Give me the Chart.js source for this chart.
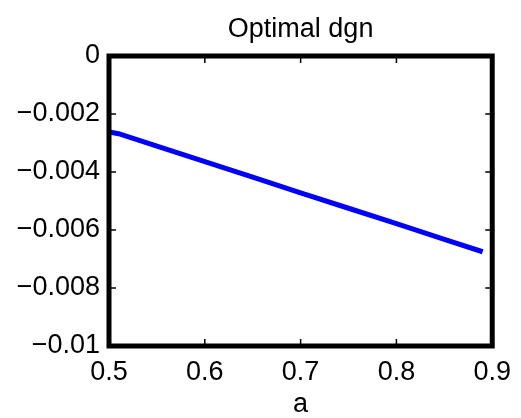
<!DOCTYPE html>
<html>
<head>
<meta charset="utf-8">
<script src="https://cdn.jsdelivr.net/npm/chart.js@4.4.1/dist/chart.umd.min.js"></script>
<style>
html,body{margin:0;padding:0;background:#fff;}
#wrap{width:521px;height:418px;position:relative;}
</style>
</head>
<body>
<div id="wrap"><canvas id="c" width="521" height="418"></canvas></div>
<script>
const titleText = 'Optimal dgn';
const xAxisLabel = 'a';
const aValues = [0.50, 0.51, 0.55, 0.60, 0.65, 0.70, 0.75, 0.80, 0.85, 0.89];
const dgnValues = [-0.00262, -0.00268, -0.00311, -0.00364, -0.00418, -0.00472, -0.00525, -0.00578, -0.00632, -0.00675];
const xTickLabels = ['0.5', '0.6', '0.7', '0.8', '0.9'];
const yTickLabels = ['\u22120.01', '\u22120.008', '\u22120.006', '\u22120.004', '\u22120.002', '0'];

const points = aValues.map((a, i) => ({x: a, y: dgnValues[i]}));
const FONT = 'Liberation Sans, Arial, sans-serif';
const FS = 27;

const framePlugin = {
  id: 'frame',
  afterDatasetsDraw(chart) {
    const {ctx, chartArea: ca, scales} = chart;
    ctx.save();
    ctx.strokeStyle = '#000';
    ctx.lineWidth = 1.5;
    const tl = 7;
    scales.x.ticks.forEach(t => {
      const px = scales.x.getPixelForValue(t.value);
      ctx.beginPath();
      ctx.moveTo(px, ca.bottom); ctx.lineTo(px, ca.bottom - tl);
      ctx.moveTo(px, ca.top); ctx.lineTo(px, ca.top + tl);
      ctx.stroke();
    });
    scales.y.ticks.forEach(t => {
      const py = scales.y.getPixelForValue(t.value);
      ctx.beginPath();
      ctx.moveTo(ca.left, py); ctx.lineTo(ca.left + tl, py);
      ctx.moveTo(ca.right, py); ctx.lineTo(ca.right - tl, py);
      ctx.stroke();
    });
    ctx.lineWidth = 5;
    ctx.lineJoin = 'miter';
    ctx.strokeRect(ca.left, ca.top, ca.right - ca.left, ca.bottom - ca.top);
    ctx.restore();
  }
};

new Chart(document.getElementById('c'), {
  type: 'line',
  data: {
    datasets: [{
      data: points,
      borderColor: '#0000ff',
      borderWidth: 5,
      pointRadius: 0,
      fill: false,
      tension: 0,
      xAxisID: 'x',
      yAxisID: 'y'
    }]
  },
  options: {
    responsive: false,
    animation: false,
    devicePixelRatio: 1,
    layout: {padding: {left: 0, right: 24, top: 0, bottom: 0}},
    plugins: {
      legend: {display: false},
      tooltip: {enabled: false},
      title: {display: false}
    },
    scales: {
      x: {
        type: 'linear',
        position: 'bottom',
        min: 0.5, max: 0.9,
        afterFit: s => { s.height = 72; },
        ticks: {
          stepSize: 0.1,
          color: '#000',
          padding: 10,
          maxRotation: 0,
          font: {family: FONT, size: FS},
          callback: (v, i) => xTickLabels[i]
        },
        grid: {display: false, drawTicks: false},
        border: {display: false},
        title: {
          display: true,
          text: xAxisLabel,
          color: '#000',
          font: {family: FONT, size: FS},
          padding: {top: 0, bottom: -3}
        }
      },
      xTop: {
        type: 'linear',
        position: 'top',
        min: 0.5, max: 0.9,
        afterFit: s => { s.height = 56; },
        ticks: {display: false},
        grid: {display: false, drawTicks: false},
        border: {display: false},
        title: {
          display: true,
          text: titleText,
          color: '#000',
          font: {family: FONT, size: FS},
          padding: {top: 13, bottom: 0}
        }
      },
      y: {
        type: 'linear',
        min: -0.01, max: 0,
        afterFit: s => { s.width = 109; },
        ticks: {
          stepSize: 0.002,
          color: '#000',
          padding: 9,
          font: {family: FONT, size: FS},
          callback: (v, i) => yTickLabels[i]
        },
        grid: {display: false, drawTicks: false},
        border: {display: false}
      }
    }
  },
  plugins: [framePlugin]
});
</script>
</body>
</html>
